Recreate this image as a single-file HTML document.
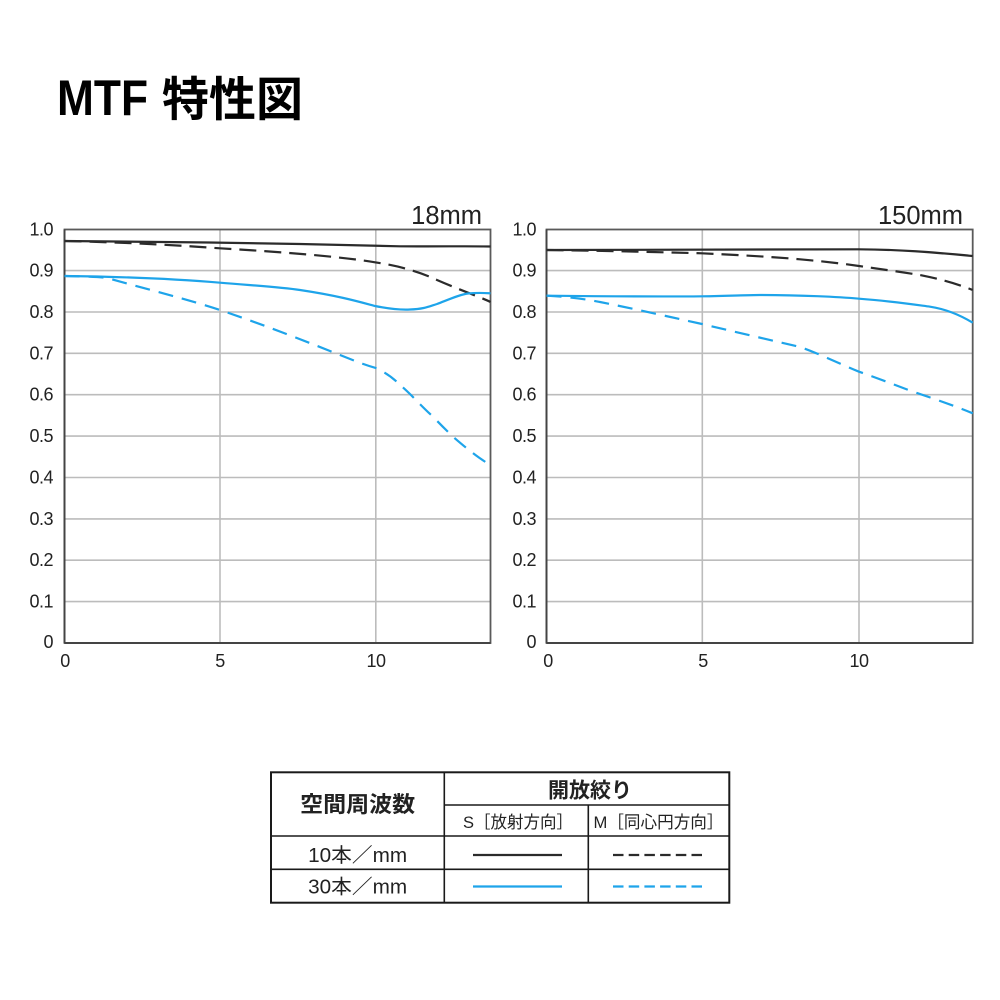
<!DOCTYPE html>
<html><head><meta charset="utf-8"><style>
html,body{margin:0;padding:0;background:#fff;}
svg{display:block;}
text{font-family:"Liberation Sans","Noto Sans CJK JP",sans-serif;}
.cjk{font-family:"Liberation Sans","Noto Sans CJK JP",sans-serif;}
</style></head><body>
<svg width="1000" height="1000" viewBox="0 0 1000 1000" xmlns="http://www.w3.org/2000/svg">
<rect width="1000" height="1000" fill="#fff"/>
<!-- Title -->
<text x="57" y="115" font-size="50" font-weight="bold" fill="#000" textLength="91" lengthAdjust="spacingAndGlyphs">MTF</text>
<text x="162" y="116" font-size="47" font-weight="bold" fill="#000" class="cjk" textLength="141" lengthAdjust="spacingAndGlyphs">特性図</text>

<!-- LEFT CHART -->
<g stroke="#bcbcbc" stroke-width="1.6" fill="none">
<line x1="64.5" y1="601.6" x2="490.5" y2="601.6"/>
<line x1="64.5" y1="560.2" x2="490.5" y2="560.2"/>
<line x1="64.5" y1="518.9" x2="490.5" y2="518.9"/>
<line x1="64.5" y1="477.5" x2="490.5" y2="477.5"/>
<line x1="64.5" y1="436.1" x2="490.5" y2="436.1"/>
<line x1="64.5" y1="394.7" x2="490.5" y2="394.7"/>
<line x1="64.5" y1="353.3" x2="490.5" y2="353.3"/>
<line x1="64.5" y1="312" x2="490.5" y2="312"/>
<line x1="64.5" y1="270.6" x2="490.5" y2="270.6"/>
<line x1="220" y1="229.5" x2="220" y2="643"/>
<line x1="375.8" y1="229.5" x2="375.8" y2="643"/>
</g>
<g stroke="#5a5a5a" stroke-width="1.8" fill="none">
<rect x="64.5" y="229.5" width="426" height="413.5"/>
</g>
<line x1="64.5" y1="643" x2="490.5" y2="643" stroke="#444" stroke-width="2"/>
<line x1="64.5" y1="229.5" x2="64.5" y2="643" stroke="#444" stroke-width="2"/>

<g font-size="18" fill="#222" text-anchor="end" letter-spacing="-0.5">
<text x="53" y="235.5">1.0</text>
<text x="53" y="276.6">0.9</text>
<text x="53" y="318">0.8</text>
<text x="53" y="359.3">0.7</text>
<text x="53" y="400.7">0.6</text>
<text x="53" y="442.1">0.5</text>
<text x="53" y="483.5">0.4</text>
<text x="53" y="524.9">0.3</text>
<text x="53" y="566.2">0.2</text>
<text x="53" y="607.6">0.1</text>
<text x="53" y="648">0</text>
</g>
<g font-size="18" fill="#222" text-anchor="middle" letter-spacing="-0.5">
<text x="65" y="667">0</text>
<text x="220" y="667">5</text>
<text x="376" y="667">10</text>
</g>
<text x="482" y="224" font-size="25.5" fill="#222" text-anchor="end">18mm</text>

<g fill="none" stroke-width="2.2">
<path stroke="#2b2b2b" d="M64.5,241 C150,241.5 220,242.5 300,244 C350,245 375,246 400,246.3 C440,246.6 470,246 490.5,246.5"/>
<path stroke="#2b2b2b" stroke-dasharray="17 8" d="M64.5,241 C150,243 200,247 220,248.3 C300,253 350,258 375,262.3 C400,266 420,272 437,280 C460,290 480,297 490.5,302"/>
<path stroke="#1ea4ea" d="M64.5,276 C150,277 200,281 220,282.7 C260,286 280,287 300,290 C340,296 360,302 375,306 C390,309 400,310 410,309.5 C425,309 430,306 437,304 C450,299 460,294.5 468,293.5 C478,292.5 485,293 490.5,293.3"/>
<path stroke="#1ea4ea" stroke-dasharray="15 9" d="M64.5,276 C90,276.5 100,277 107,278 C150,290 190,300 220,310 C270,327 310,343 340,355 C355,361 365,365 376.7,368.3 C390,375 395,380 400,385 C410,393 420,405 433,416.7 C440,424 447,431 453,436.7 C465,447 478,458 490.5,465"/>
</g>

<!-- RIGHT CHART -->
<g stroke="#bcbcbc" stroke-width="1.6" fill="none">
<line x1="546.5" y1="601.6" x2="972.7" y2="601.6"/>
<line x1="546.5" y1="560.2" x2="972.7" y2="560.2"/>
<line x1="546.5" y1="518.9" x2="972.7" y2="518.9"/>
<line x1="546.5" y1="477.5" x2="972.7" y2="477.5"/>
<line x1="546.5" y1="436.1" x2="972.7" y2="436.1"/>
<line x1="546.5" y1="394.7" x2="972.7" y2="394.7"/>
<line x1="546.5" y1="353.3" x2="972.7" y2="353.3"/>
<line x1="546.5" y1="312" x2="972.7" y2="312"/>
<line x1="546.5" y1="270.6" x2="972.7" y2="270.6"/>
<line x1="702.3" y1="229.5" x2="702.3" y2="643"/>
<line x1="859" y1="229.5" x2="859" y2="643"/>
</g>
<g stroke="#5a5a5a" stroke-width="1.8" fill="none">
<rect x="546.5" y="229.5" width="426.2" height="413.5"/>
</g>
<line x1="546.5" y1="643" x2="972.7" y2="643" stroke="#444" stroke-width="2"/>
<line x1="546.5" y1="229.5" x2="546.5" y2="643" stroke="#444" stroke-width="2"/>

<g font-size="18" fill="#222" text-anchor="end" letter-spacing="-0.5">
<text x="536" y="235.5">1.0</text>
<text x="536" y="276.6">0.9</text>
<text x="536" y="318">0.8</text>
<text x="536" y="359.3">0.7</text>
<text x="536" y="400.7">0.6</text>
<text x="536" y="442.1">0.5</text>
<text x="536" y="483.5">0.4</text>
<text x="536" y="524.9">0.3</text>
<text x="536" y="566.2">0.2</text>
<text x="536" y="607.6">0.1</text>
<text x="536" y="648">0</text>
</g>
<g font-size="18" fill="#222" text-anchor="middle" letter-spacing="-0.5">
<text x="548" y="667">0</text>
<text x="703" y="667">5</text>
<text x="859" y="667">10</text>
</g>
<text x="963" y="224" font-size="25.5" fill="#222" text-anchor="end">150mm</text>

<g fill="none" stroke-width="2.2">
<path stroke="#2b2b2b" d="M546.5,250 C650,250 750,249 859,249.3 C900,249.6 930,252 972.7,256"/>
<path stroke="#2b2b2b" stroke-dasharray="17 8" d="M546.5,250 C620,251 670,252.5 702,253.3 C750,255.5 780,257.5 800,259.3 C830,262 845,264 859,266 C890,270.5 905,272.5 920,275 C945,280 960,285 972.7,290"/>
<path stroke="#1ea4ea" d="M546.5,295.7 C620,296.5 680,296.5 702,296.3 C730,296 745,295 760,295 C800,295 840,297 859,298.7 C890,301 910,304 930,306.7 C945,309 960,315 972.7,322.7"/>
<path stroke="#1ea4ea" stroke-dasharray="15 9" d="M546.5,295.7 C570,297 585,299 600,302 C640,310 670,317 702,324 C740,333 770,340 800,347 C820,354 840,364 859,371.7 C880,379 895,385 913,391.7 C935,399 955,406 972.7,413.3"/>
</g>

<!-- TABLE -->
<g stroke="#1a1a1a" fill="none">
<rect x="271" y="772.3" width="458.3" height="130.4" stroke-width="2"/>
<line x1="444.3" y1="772.3" x2="444.3" y2="902.7" stroke-width="1.6"/>
<line x1="588.3" y1="805" x2="588.3" y2="902.7" stroke-width="1.6"/>
<line x1="444.3" y1="805" x2="729.3" y2="805" stroke-width="1.6"/>
<line x1="271" y1="836" x2="729.3" y2="836" stroke-width="1.6"/>
<line x1="271" y1="869.3" x2="729.3" y2="869.3" stroke-width="1.6"/>
</g>
<g fill="#222" text-anchor="middle" class="cjk">
<text x="357.6" y="812" font-size="22" font-weight="bold" textLength="115" lengthAdjust="spacingAndGlyphs">空間周波数</text>
<text x="590" y="797.5" font-size="21" font-weight="bold" textLength="84" lengthAdjust="spacingAndGlyphs">開放絞り</text>
<text x="518" y="828" font-size="17" textLength="110" lengthAdjust="spacingAndGlyphs">S［放射方向］</text>
<text x="658.5" y="828" font-size="17" textLength="130" lengthAdjust="spacingAndGlyphs">M［同心円方向］</text>
<text x="357.6" y="862" font-size="20" textLength="99" lengthAdjust="spacingAndGlyphs">10本／mm</text>
<text x="357.6" y="893.5" font-size="20" textLength="99" lengthAdjust="spacingAndGlyphs">30本／mm</text>
</g>
<g stroke-width="2.2">
<line x1="473" y1="855" x2="562" y2="855" stroke="#2b2b2b"/>
<line x1="613" y1="855" x2="702" y2="855" stroke="#2b2b2b" stroke-dasharray="10.5 5.2"/>
<line x1="473" y1="886.5" x2="562" y2="886.5" stroke="#1ea4ea"/>
<line x1="613" y1="886.5" x2="702" y2="886.5" stroke="#1ea4ea" stroke-dasharray="10.5 5.2"/>
</g>
</svg>
</body></html>
